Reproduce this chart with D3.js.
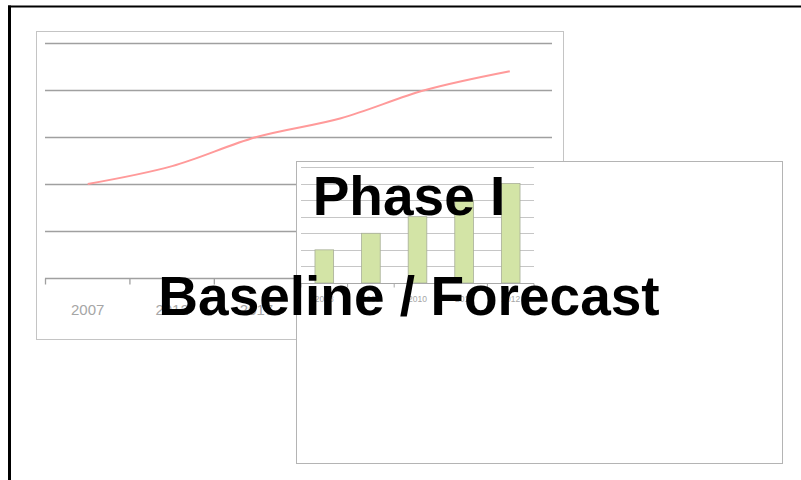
<!DOCTYPE html>
<html lang="en">
<head>
    <meta charset="UTF-8">
    <title>Phase I - Baseline / Forecast</title>
    <style>
        body { margin: 0; background: #fff; }
        text { font-family: "Liberation Sans", Arial, sans-serif; }
    </style>
</head>
<body>

    <script src="https://d3js.org/d3.v7.min.js"></script>
    <script>

        // Data: line chart (back panel)
        var lineYears = ["2007", "2012", "2017", "2022", "2027", "2032"];
        var lineValues = [100, 119, 150, 170, 200, 220];
        var lineTicks = [0, 50, 100, 150, 200, 250];

        // Data: bar chart (front panel)
        var barYears = ["2008", "2009", "2010", "2011", "2012"];
        var barValues = [2, 3, 4, 5, 6];
        var barTicks = [0, 1, 2, 3, 4, 5, 6, 7];

        // Titles
        var titleLines = ["Phase I", "Baseline / Forecast"];

        var width = 801;
        var height = 480;

        var svg = d3.select("body").append("svg")
            .attr("width", width)
            .attr("height", height);

        svg.append("rect").attr("width", width).attr("height", height).attr("fill", "#fff");

        // Outer frame (only top and left edges show)
        svg.append("line").attr("x1", 8).attr("x2", width).attr("y1", 6.5).attr("y2", 6.5)
            .attr("stroke", "#000").attr("stroke-width", 2);
        svg.append("line").attr("x1", 9.5).attr("x2", 9.5).attr("y1", 5.5).attr("y2", height)
            .attr("stroke", "#000").attr("stroke-width", 3);

        // ---------- line chart panel ----------
        var lp = svg.append("g");
        lp.append("rect")
            .attr("x", 36.5).attr("y", 31.5).attr("width", 527).attr("height", 308)
            .attr("fill", "#fff").attr("stroke", "#c4c4c4");

        var lx = d3.scaleBand().domain(lineYears).range([45.5, 552]);
        var ly = d3.scaleLinear().domain([0, 250]).range([278, 43]);

        // gridlines
        lp.selectAll(".lgrid")
            .data(lineTicks.slice(1))
            .enter().append("line")
            .attr("x1", 45).attr("x2", 552)
            .attr("y1", function(d) { return Math.round(ly(d)) + 0.5; })
            .attr("y2", function(d) { return Math.round(ly(d)) + 0.5; })
            .attr("stroke", "#a0a0a0").attr("stroke-width", 1.3);

        // x axis with ticks at band edges
        var lAxis = lp.append("g").attr("transform", "translate(0," + (Math.round(ly(0)) + 0.5) + ")");
        lAxis.append("line").attr("x1", 45).attr("x2", 552)
            .attr("stroke", "#a0a0a0").attr("stroke-width", 1.3);
        lAxis.selectAll(".ltick")
            .data(lineYears.concat(["end"]))
            .enter().append("line")
            .attr("x1", function(d, i) { return lx.range()[0] + i * lx.step(); })
            .attr("x2", function(d, i) { return lx.range()[0] + i * lx.step(); })
            .attr("y1", 0).attr("y2", 6)
            .attr("stroke", "#a0a0a0").attr("stroke-width", 1.3);
        lAxis.selectAll(".llabel")
            .data(lineYears)
            .enter().append("text")
            .attr("x", function(d) { return lx(d) + lx.bandwidth() / 2; })
            .attr("y", 36)
            .attr("text-anchor", "middle")
            .attr("font-size", "15px")
            .attr("fill", "#a6a6a6")
            .text(function(d) { return d; });

        var line = d3.line()
            .x(function(d, i) { return lx(lineYears[i]) + lx.bandwidth() / 2; })
            .y(function(d) { return ly(d); })
            .curve(d3.curveCatmullRom.alpha(0.5));

        lp.append("path")
            .datum(lineValues)
            .attr("d", line)
            .attr("fill", "none")
            .attr("stroke", "#ff9a9a")
            .attr("stroke-width", 2);

        // ---------- bar chart panel ----------
        var bp = svg.append("g");
        bp.append("rect")
            .attr("x", 296.5).attr("y", 161.5).attr("width", 486).attr("height", 302)
            .attr("fill", "#fff").attr("stroke", "#b4b4b4");

        var bx = d3.scaleBand().domain(barYears).range([301, 534]).paddingInner(0.6).paddingOuter(0.3);
        var bxEdge = d3.scaleBand().domain(barYears).range([301, 534]);
        var by = d3.scaleLinear().domain([0, 7]).range([283, 167]);

        bp.selectAll(".bgrid")
            .data(barTicks.slice(1))
            .enter().append("line")
            .attr("x1", 301).attr("x2", 534)
            .attr("y1", function(d) { return Math.round(by(d)) + 0.5; })
            .attr("y2", function(d) { return Math.round(by(d)) + 0.5; })
            .attr("stroke", "#c6c6c6").attr("stroke-width", 1);

        bp.selectAll(".bar")
            .data(barValues)
            .enter().append("rect")
            .attr("x", function(d, i) { return bx(barYears[i]); })
            .attr("y", function(d) { return by(d); })
            .attr("width", bx.bandwidth())
            .attr("height", function(d) { return by(0) - by(d); })
            .attr("fill", "#d3e4a6")
            .attr("stroke", "#a8ae98")
            .attr("stroke-width", 0.8);

        var bAxis = bp.append("g").attr("transform", "translate(0," + (Math.round(by(0)) + 0.5) + ")");
        bAxis.append("line").attr("x1", 301).attr("x2", 534)
            .attr("stroke", "#a8a8a8").attr("stroke-width", 1);
        bAxis.selectAll(".btick")
            .data(barYears.concat(["end"]))
            .enter().append("line")
            .attr("x1", function(d, i) { return 301 + i * bxEdge.step(); })
            .attr("x2", function(d, i) { return 301 + i * bxEdge.step(); })
            .attr("y1", 0).attr("y2", 4)
            .attr("stroke", "#a8a8a8");
        bAxis.selectAll(".blabel")
            .data(barYears)
            .enter().append("text")
            .attr("x", function(d) { return bxEdge(d) + bxEdge.bandwidth() / 2; })
            .attr("y", 18)
            .attr("text-anchor", "middle")
            .attr("font-size", "8.5px")
            .attr("fill", "#a6a6a6")
            .text(function(d) { return d; });

        // ---------- big overlay titles ----------
        svg.selectAll(".title")
            .data(titleLines)
            .enter().append("text")
            .attr("x", 409)
            .attr("y", function(d, i) { return i === 0 ? 215 : 315; })
            .attr("text-anchor", "middle")
            .attr("font-size", "55px")
            .attr("font-weight", "bold")
            .attr("fill", "#000")
            .text(function(d) { return d; });

    </script>
</body>
</html>
